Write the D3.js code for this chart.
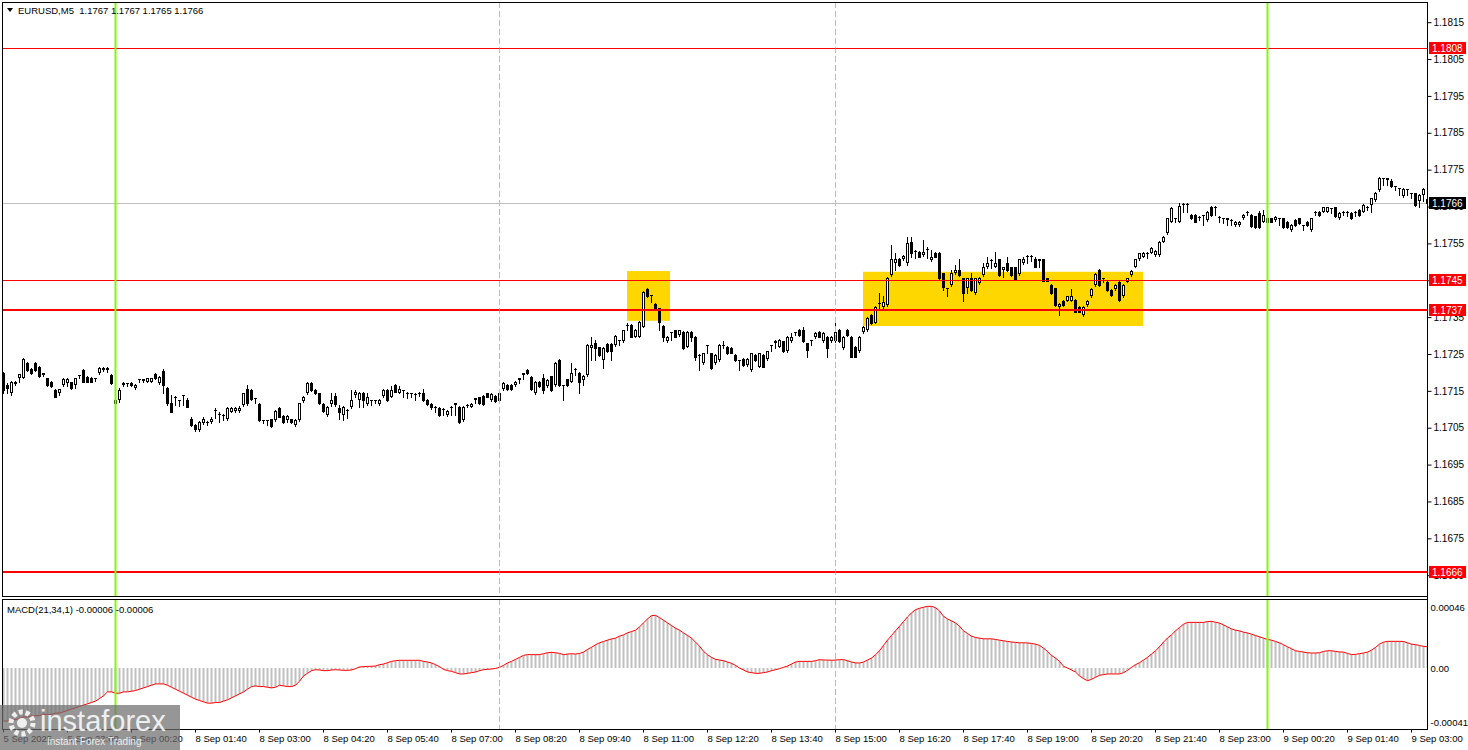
<!DOCTYPE html>
<html><head><meta charset="utf-8">
<script src="https://cdn.jsdelivr.net/npm/d3@7"></script>
<style>body{margin:0;background:#fff}svg{display:block}text{font-family:"Liberation Sans",Arial,sans-serif}</style>
</head><body><svg id="c" width="1468" height="750"></svg>
<script>
// ---- DATA (EURUSD M5, candle index 0 = 8 Sep 00:00) ----
const firstIndex = -28;
const opens = [1.17198,1.17166,1.17143,1.17168,1.17186,1.17186,1.17225,1.17209,1.17225,1.17216,1.17198,1.17184,1.17175,1.17152,1.17143,1.17166,1.17171,1.17173,1.17166,1.17193,1.17207,1.17187,1.17186,1.17184,1.17198,1.17207,1.17207,1.17193,
1.17113,1.17125,1.17166,1.17171,1.17172,1.17157,1.17181,1.17181,1.17175,1.17175,
1.17196,1.17171,1.17205,1.17157,1.17116,1.17134,1.17125,1.17138,1.17125,1.17075,
1.17057,1.17044,1.17064,1.17066,1.17066,1.17099,1.17086,1.17085,1.17073,1.17094,
1.17096,1.17096,1.17112,1.17154,1.17152,1.17130,1.17114,1.17071,1.17070,1.17073,
1.17071,1.17104,1.17082,1.17071,1.17073,1.17057,1.17071,1.17123,1.17143,1.17172,
1.17152,1.17143,1.17114,1.17085,1.17114,1.17136,1.17104,1.17085,1.17098,1.17107,
1.17139,1.17125,1.17143,1.17114,1.17125,1.17125,1.17113,1.17136,1.17152,1.17134,
1.17166,1.17145,1.17152,1.17145,1.17143,1.17141,1.17145,1.17145,1.17125,1.17114,
1.17107,1.17103,1.17101,1.17085,1.17107,1.17116,1.17107,1.17071,1.17112,1.17107,
1.17130,1.17132,1.17136,1.17143,1.17125,1.17136,1.17123,1.17154,1.17166,1.17166,
1.17166,1.17184,1.17198,1.17207,1.17187,1.17143,1.17175,1.17184,1.17162,1.17189,
1.17166,1.17234,1.17166,1.17181,1.17175,1.17210,1.17198,1.17180,1.17193,1.17266,
1.17279,1.17268,1.17234,1.17277,1.17277,1.17275,1.17288,1.17284,1.17329,1.17329,
1.17297,1.17297,1.17324,1.17426,1.17410,1.17385,1.17374,1.17326,1.17284,1.17310,
1.17314,1.17302,1.17311,1.17270,1.17311,1.17297,1.17248,1.17225,1.17274,1.17252,
1.17225,1.17234,1.17275,1.17270,1.17266,1.17248,1.17234,1.17236,1.17220,1.17207,
1.17248,1.17216,1.17248,1.17236,1.17274,1.17280,1.17270,1.17284,1.17257,1.17284,
1.17310,1.17315,1.17315,1.17279,1.17288,1.17295,1.17311,1.17284,1.17297,1.17284,
1.17284,1.17315,1.17266,1.17315,1.17297,1.17270,1.17257,1.17310,1.17315,1.17356,
1.17335,1.17388,1.17378,1.17383,1.17464,1.17496,1.17507,1.17507,1.17496,1.17555,
1.17530,1.17528,1.17519,1.17535,1.17505,1.17525,1.17525,1.17469,1.17428,1.17437,
1.17469,1.17478,1.17455,1.17428,1.17455,1.17415,1.17442,1.17464,1.17485,1.17505,
1.17487,1.17507,1.17478,1.17496,1.17485,1.17485,1.17466,1.17496,1.17516,1.17516,
1.17507,1.17507,1.17507,1.17455,1.17437,1.17428,1.17377,1.17395,1.17395,1.17395,
1.17397,1.17377,1.17356,1.17383,1.17406,1.17437,1.17478,1.17455,1.17446,1.17424,
1.17425,1.17446,1.17406,1.17446,1.17464,1.17487,1.17507,1.17514,1.17525,1.17525,
1.17519,1.17519,1.17555,1.17577,1.17609,1.17618,1.17609,1.17658,1.17658,1.17627,
1.17627,1.17622,1.17627,1.17614,1.17650,1.17650,1.17622,1.17618,1.17618,1.17614,
1.17600,1.17600,1.17618,1.17636,1.17627,1.17623,1.17632,1.17609,1.17618,1.17618,
1.17614,1.17618,1.17618,1.17609,1.17586,1.17614,1.17618,1.17600,1.17609,1.17586,
1.17636,1.17636,1.17636,1.17636,1.17645,1.17648,1.17618,1.17636,1.17636,1.17632,
1.17636,1.17641,1.17636,1.17650,1.17654,1.17668,1.17695,1.17727,1.17727,1.17720,
1.17706,1.17699,1.17679,1.17697,1.17686,1.17686,1.17666,1.17681,1.17670];
const highs = [1.17202,1.17172,1.17178,1.17177,1.17197,1.17238,1.17228,1.17212,1.17227,1.17218,1.17199,1.17186,1.17177,1.17154,1.17156,1.17184,1.17184,1.17175,1.17186,1.17194,1.17209,1.17189,1.17188,1.17185,1.17215,1.17215,1.17216,1.17196,
1.17128,1.17157,1.17174,1.17172,1.17174,1.17168,1.17182,1.17182,1.17186,1.17186,
1.17198,1.17189,1.17209,1.17160,1.17139,1.17135,1.17126,1.17140,1.17130,1.17078,
1.17060,1.17068,1.17079,1.17067,1.17078,1.17103,1.17094,1.17087,1.17105,1.17106,
1.17106,1.17108,1.17145,1.17166,1.17154,1.17131,1.17116,1.17072,1.17072,1.17075,
1.17099,1.17106,1.17084,1.17084,1.17075,1.17073,1.17118,1.17136,1.17175,1.17175,
1.17154,1.17145,1.17116,1.17109,1.17143,1.17145,1.17112,1.17109,1.17100,1.17152,
1.17153,1.17148,1.17148,1.17143,1.17126,1.17126,1.17127,1.17154,1.17154,1.17162,
1.17168,1.17163,1.17153,1.17146,1.17145,1.17143,1.17146,1.17154,1.17127,1.17116,
1.17108,1.17105,1.17103,1.17098,1.17108,1.17117,1.17109,1.17109,1.17113,1.17116,
1.17131,1.17134,1.17138,1.17145,1.17143,1.17138,1.17145,1.17173,1.17168,1.17168,
1.17177,1.17185,1.17199,1.17209,1.17189,1.17177,1.17177,1.17195,1.17182,1.17191,
1.17227,1.17236,1.17167,1.17183,1.17225,1.17212,1.17200,1.17193,1.17277,1.17297,
1.17288,1.17270,1.17268,1.17281,1.17281,1.17301,1.17289,1.17316,1.17333,1.17331,
1.17317,1.17340,1.17421,1.17430,1.17411,1.17387,1.17376,1.17328,1.17299,1.17311,
1.17316,1.17316,1.17313,1.17313,1.17313,1.17299,1.17249,1.17254,1.17275,1.17254,
1.17250,1.17277,1.17284,1.17272,1.17268,1.17250,1.17235,1.17238,1.17238,1.17254,
1.17250,1.17254,1.17250,1.17259,1.17275,1.17288,1.17290,1.17286,1.17299,1.17306,
1.17311,1.17317,1.17324,1.17281,1.17289,1.17310,1.17313,1.17310,1.17299,1.17299,
1.17338,1.17317,1.17299,1.17317,1.17299,1.17272,1.17299,1.17326,1.17349,1.17358,
1.17380,1.17415,1.17406,1.17458,1.17546,1.17523,1.17510,1.17518,1.17567,1.17568,
1.17531,1.17530,1.17560,1.17540,1.17532,1.17527,1.17527,1.17471,1.17430,1.17478,
1.17492,1.17507,1.17457,1.17457,1.17469,1.17457,1.17458,1.17496,1.17514,1.17507,
1.17528,1.17509,1.17487,1.17514,1.17487,1.17487,1.17509,1.17514,1.17518,1.17518,
1.17514,1.17508,1.17509,1.17457,1.17439,1.17430,1.17388,1.17397,1.17408,1.17426,
1.17399,1.17379,1.17379,1.17397,1.17428,1.17469,1.17480,1.17456,1.17448,1.17426,
1.17439,1.17448,1.17439,1.17457,1.17478,1.17509,1.17525,1.17527,1.17526,1.17539,
1.17532,1.17557,1.17570,1.17620,1.17650,1.17619,1.17660,1.17660,1.17660,1.17630,
1.17629,1.17623,1.17628,1.17638,1.17652,1.17651,1.17623,1.17619,1.17619,1.17615,
1.17611,1.17611,1.17629,1.17637,1.17629,1.17625,1.17638,1.17641,1.17620,1.17620,
1.17624,1.17619,1.17620,1.17611,1.17602,1.17616,1.17620,1.17601,1.17611,1.17620,
1.17637,1.17638,1.17650,1.17650,1.17646,1.17650,1.17634,1.17637,1.17637,1.17634,
1.17637,1.17643,1.17656,1.17651,1.17674,1.17690,1.17729,1.17728,1.17728,1.17724,
1.17707,1.17700,1.17699,1.17698,1.17687,1.17688,1.17683,1.17699,1.17670];
const lows = [1.17143,1.17143,1.17140,1.17166,1.17175,1.17184,1.17205,1.17196,1.17205,1.17187,1.17189,1.17164,1.17160,1.17132,1.17139,1.17164,1.17164,1.17154,1.17157,1.17186,1.17173,1.17173,1.17173,1.17177,1.17195,1.17205,1.17202,1.17169,
1.17107,1.17121,1.17164,1.17164,1.17164,1.17155,1.17173,1.17174,1.17173,1.17173,
1.17182,1.17169,1.17143,1.17112,1.17092,1.17112,1.17109,1.17112,1.17105,1.17054,
1.17042,1.17040,1.17060,1.17058,1.17064,1.17076,1.17066,1.17071,1.17071,1.17092,
1.17094,1.17094,1.17109,1.17112,1.17124,1.17116,1.17068,1.17062,1.17057,1.17053,
1.17069,1.17078,1.17064,1.17066,1.17064,1.17055,1.17069,1.17121,1.17141,1.17150,
1.17141,1.17114,1.17094,1.17083,1.17110,1.17110,1.17073,1.17071,1.17076,1.17103,
1.17134,1.17107,1.17107,1.17112,1.17112,1.17116,1.17111,1.17134,1.17123,1.17132,
1.17146,1.17143,1.17134,1.17130,1.17134,1.17125,1.17136,1.17123,1.17112,1.17100,
1.17094,1.17083,1.17085,1.17083,1.17085,1.17085,1.17064,1.17069,1.17107,1.17105,
1.17116,1.17114,1.17112,1.17132,1.17123,1.17121,1.17121,1.17152,1.17152,1.17152,
1.17164,1.17172,1.17181,1.17196,1.17152,1.17141,1.17160,1.17143,1.17160,1.17150,
1.17164,1.17164,1.17125,1.17164,1.17173,1.17193,1.17143,1.17166,1.17191,1.17234,
1.17234,1.17245,1.17211,1.17255,1.17234,1.17273,1.17275,1.17282,1.17315,1.17295,
1.17295,1.17295,1.17322,1.17404,1.17392,1.17368,1.17315,1.17284,1.17282,1.17288,
1.17295,1.17300,1.17264,1.17268,1.17284,1.17234,1.17207,1.17223,1.17252,1.17209,
1.17223,1.17232,1.17266,1.17250,1.17252,1.17232,1.17207,1.17218,1.17218,1.17205,
1.17232,1.17214,1.17214,1.17234,1.17257,1.17266,1.17268,1.17255,1.17255,1.17282,
1.17302,1.17300,1.17282,1.17243,1.17274,1.17293,1.17295,1.17282,1.17243,1.17282,
1.17282,1.17282,1.17264,1.17300,1.17241,1.17241,1.17255,1.17308,1.17313,1.17332,
1.17333,1.17374,1.17370,1.17380,1.17462,1.17478,1.17490,1.17505,1.17492,1.17514,
1.17510,1.17512,1.17517,1.17510,1.17503,1.17512,1.17453,1.17424,1.17407,1.17435,
1.17467,1.17462,1.17395,1.17415,1.17422,1.17413,1.17440,1.17462,1.17483,1.17483,
1.17485,1.17462,1.17460,1.17476,1.17462,1.17451,1.17464,1.17494,1.17496,1.17501,
1.17485,1.17487,1.17447,1.17447,1.17413,1.17381,1.17356,1.17381,1.17393,1.17393,
1.17363,1.17363,1.17354,1.17381,1.17404,1.17435,1.17435,1.17446,1.17422,1.17408,
1.17423,1.17395,1.17404,1.17444,1.17462,1.17485,1.17505,1.17512,1.17510,1.17523,
1.17517,1.17517,1.17553,1.17575,1.17607,1.17609,1.17607,1.17636,1.17636,1.17616,
1.17607,1.17614,1.17600,1.17612,1.17625,1.17627,1.17609,1.17604,1.17600,1.17600,
1.17598,1.17598,1.17616,1.17627,1.17595,1.17593,1.17593,1.17607,1.17607,1.17607,
1.17612,1.17600,1.17593,1.17593,1.17584,1.17598,1.17603,1.17586,1.17598,1.17584,
1.17627,1.17625,1.17634,1.17634,1.17632,1.17621,1.17616,1.17627,1.17623,1.17616,
1.17623,1.17625,1.17634,1.17641,1.17636,1.17666,1.17693,1.17708,1.17708,1.17704,
1.17695,1.17681,1.17677,1.17681,1.17672,1.17652,1.17650,1.17665,1.17650];
const closes = [1.17152,1.17157,1.17175,1.17175,1.17195,1.17236,1.17207,1.17198,1.17207,1.17189,1.17197,1.17166,1.17162,1.17134,1.17154,1.17182,1.17182,1.17157,1.17184,1.17193,1.17175,1.17175,1.17175,1.17184,1.17213,1.17213,1.17213,1.17171,
1.17125,1.17152,1.17172,1.17171,1.17166,1.17166,1.17181,1.17180,1.17184,1.17184,
1.17184,1.17187,1.17166,1.17116,1.17094,1.17133,1.17124,1.17139,1.17107,1.17057,
1.17046,1.17066,1.17073,1.17066,1.17075,1.17098,1.17087,1.17084,1.17103,1.17104,
1.17104,1.17104,1.17143,1.17116,1.17127,1.17130,1.17071,1.17070,1.17070,1.17055,
1.17096,1.17080,1.17066,1.17082,1.17066,1.17071,1.17116,1.17134,1.17172,1.17152,
1.17143,1.17116,1.17096,1.17107,1.17125,1.17114,1.17094,1.17107,1.17098,1.17125,
1.17148,1.17143,1.17125,1.17134,1.17125,1.17124,1.17125,1.17152,1.17125,1.17152,
1.17148,1.17154,1.17152,1.17144,1.17143,1.17141,1.17144,1.17125,1.17114,1.17107,
1.17106,1.17085,1.17100,1.17096,1.17106,1.17115,1.17066,1.17107,1.17111,1.17114,
1.17129,1.17116,1.17114,1.17134,1.17141,1.17123,1.17143,1.17171,1.17154,1.17154,
1.17175,1.17183,1.17197,1.17198,1.17154,1.17175,1.17162,1.17152,1.17180,1.17152,
1.17225,1.17166,1.17165,1.17166,1.17198,1.17210,1.17173,1.17191,1.17275,1.17275,
1.17266,1.17248,1.17266,1.17257,1.17257,1.17299,1.17288,1.17314,1.17329,1.17297,
1.17315,1.17338,1.17419,1.17406,1.17410,1.17370,1.17338,1.17297,1.17297,1.17310,
1.17297,1.17315,1.17266,1.17311,1.17297,1.17243,1.17248,1.17252,1.17274,1.17211,
1.17248,1.17275,1.17275,1.17252,1.17254,1.17234,1.17234,1.17220,1.17236,1.17252,
1.17234,1.17252,1.17216,1.17257,1.17274,1.17284,1.17288,1.17257,1.17297,1.17297,
1.17310,1.17302,1.17284,1.17261,1.17288,1.17308,1.17297,1.17308,1.17266,1.17297,
1.17311,1.17284,1.17297,1.17302,1.17243,1.17243,1.17297,1.17324,1.17347,1.17334,
1.17378,1.17389,1.17392,1.17455,1.17507,1.17507,1.17492,1.17516,1.17550,1.17523,
1.17530,1.17514,1.17528,1.17536,1.17514,1.17514,1.17455,1.17433,1.17429,1.17469,
1.17478,1.17464,1.17415,1.17455,1.17424,1.17455,1.17455,1.17485,1.17496,1.17505,
1.17496,1.17464,1.17485,1.17478,1.17464,1.17453,1.17507,1.17507,1.17516,1.17515,
1.17487,1.17506,1.17449,1.17449,1.17415,1.17383,1.17386,1.17383,1.17406,1.17407,
1.17365,1.17365,1.17377,1.17395,1.17426,1.17467,1.17437,1.17455,1.17424,1.17410,
1.17437,1.17397,1.17437,1.17455,1.17476,1.17507,1.17523,1.17525,1.17525,1.17537,
1.17530,1.17555,1.17567,1.17618,1.17645,1.17618,1.17652,1.17658,1.17657,1.17618,
1.17609,1.17622,1.17626,1.17636,1.17627,1.17649,1.17622,1.17618,1.17617,1.17613,
1.17609,1.17609,1.17627,1.17636,1.17597,1.17595,1.17595,1.17627,1.17609,1.17609,
1.17622,1.17618,1.17595,1.17595,1.17600,1.17600,1.17605,1.17600,1.17600,1.17618,
1.17636,1.17627,1.17648,1.17648,1.17645,1.17623,1.17632,1.17636,1.17635,1.17618,
1.17636,1.17627,1.17654,1.17650,1.17672,1.17688,1.17727,1.17727,1.17726,1.17706,
1.17706,1.17699,1.17697,1.17697,1.17686,1.17654,1.17681,1.17697,1.17660];
// MACD(21,34,1) main values per candle
const macdValues = [-40e-5,-40e-5,-39e-5,-39e-5,-38e-5,-37e-5,-37e-5,-36e-5,-36e-5,-36e-5,-35e-5,-35e-5,-35e-5,-34e-5,-34e-5,-33e-5,-32e-5,-31e-5,-30e-5,-29e-5,-28e-5,-27e-5,-26e-5,-25e-5,-23e-5,-21e-5,-18e-5,-18e-5,
-19e-5,-19e-5,-18e-5,-18e-5,-17.5e-5,-17e-5,-16e-5,-15e-5,-14e-5,-13e-5,-12e-5,-12e-5,-12e-5,-13e-5,-14.5e-5,-16e-5,-17.5e-5,-19e-5,-20.5e-5,-22e-5,-23.5e-5,
-24.5e-5,-25.5e-5,-26.5e-5,-26.5e-5,-26e-5,-26e-5,-25e-5,-24e-5,-22.5e-5,-21e-5,-19.5e-5,-18e-5,-16e-5,-14e-5,-13.5e-5,-14e-5,-14e-5,-14.5e-5,-15e-5,-14.5e-5,
-13e-5,-13.5e-5,-14e-5,-14e-5,-13e-5,-10e-5,-6e-5,-4e-5,-2e-5,-1.3e-5,-1.5e-5,-2e-5,-2e-5,-1.5e-5,-1.3e-5,-1.5e-5,-1.8e-5,-1.8e-5,-1.5e-5,-0.5e-5,
0.8e-5,1e-5,1.2e-5,1.3e-5,1.5e-5,2.5e-5,3e-5,4e-5,5e-5,5.5e-5,5.8e-5,5.8e-5,5.8e-5,5.8e-5,5.8e-5,5.8e-5,5e-5,4.5e-5,3.8e-5,2.5e-5,
1e-5,-1e-5,-2e-5,-2.5e-5,-3.5e-5,-4.5e-5,-4.5e-5,-4e-5,-3.5e-5,-3e-5,-2e-5,-1.3e-5,-1e-5,-0.8e-5,-0.3e-5,0.5e-5,2e-5,3.8e-5,5e-5,6.5e-5,
8e-5,9.5e-5,10.1e-5,10.1e-5,10e-5,10.1e-5,10.8e-5,11.5e-5,11.8e-5,11.5e-5,11e-5,10.1e-5,10.5e-5,10.8e-5,10.5e-5,11e-5,12e-5,14e-5,15.6e-5,17.5e-5,
19e-5,20e-5,21e-5,21.9e-5,22.5e-5,24e-5,25e-5,26.5e-5,27.5e-5,28.5e-5,31e-5,34e-5,37e-5,39.5e-5,39.7e-5,38e-5,36e-5,34e-5,32e-5,30e-5,
28.5e-5,26.5e-5,24.5e-5,22.5e-5,19.5e-5,16.5e-5,12.6e-5,10e-5,8e-5,6.5e-5,6e-5,5.5e-5,4.5e-5,3.5e-5,2e-5,0,-1.5e-5,-3e-5,-3.5e-5,-4e-5,
-4e-5,-3.5e-5,-3e-5,-2e-5,-1.3e-5,-0.5e-5,0.5e-5,1.5e-5,3e-5,4.5e-5,5e-5,5e-5,5e-5,5e-5,5.5e-5,6.3e-5,6e-5,6e-5,5.8e-5,6e-5,
6.3e-5,6.3e-5,5.5e-5,4.5e-5,3.8e-5,3.8e-5,4.5e-5,6e-5,7.5e-5,10e-5,13e-5,17e-5,21e-5,24.5e-5,28e-5,31.4e-5,35e-5,38.5e-5,41.5e-5,44e-5,
45e-5,45.8e-5,46.5e-5,46.5e-5,45.5e-5,43e-5,39e-5,37e-5,35.5e-5,34e-5,31.5e-5,28e-5,26e-5,24e-5,23e-5,22.5e-5,22e-5,22e-5,22e-5,21.5e-5,
21e-5,20.5e-5,20e-5,19.6e-5,19.3e-5,19e-5,19e-5,18.9e-5,18.5e-5,18e-5,17e-5,15e-5,12.5e-5,9.5e-5,7.5e-5,5e-5,1.3e-5,0,-1.5e-5,-3e-5,
-6e-5,-8e-5,-9.6e-5,-8.5e-5,-7e-5,-5.5e-5,-5e-5,-4.5e-5,-4.5e-5,-4.5e-5,-4.5e-5,-3.5e-5,-1.8e-5,0.5e-5,2.5e-5,4e-5,6e-5,8e-5,10.5e-5,13e-5,
16e-5,19.5e-5,22.6e-5,25e-5,28e-5,30.5e-5,33e-5,34.4e-5,34.4e-5,34.4e-5,34.4e-5,34.4e-5,35e-5,35.2e-5,34.5e-5,33.9e-5,32.5e-5,31e-5,29.5e-5,28.5e-5,
28e-5,27e-5,26.4e-5,25.5e-5,24.5e-5,23.5e-5,22.5e-5,21.5e-5,21e-5,20e-5,19e-5,17.5e-5,16e-5,14.5e-5,13e-5,12.5e-5,12e-5,11.5e-5,11.3e-5,11.3e-5,
11.5e-5,12.5e-5,13e-5,13e-5,12.5e-5,12.1e-5,12e-5,11e-5,10.1e-5,10.3e-5,10.8e-5,11.3e-5,12e-5,13.5e-5,15.5e-5,18e-5,19.5e-5,20.1e-5,20.1e-5,20.1e-5,
20.1e-5,20e-5,19e-5,18e-5,17.6e-5,17e-5,16.3e-5,16e-5];
const priceTicks = [1.1665,1.1675,1.1685,1.1695,1.1705,1.1715,1.1725,1.1735,1.1745,1.1755,1.1765,1.1775,1.1785,1.1795,1.1805,1.1815];
const levelPrices = [1.1808,1.1745,1.1737,1.1666];
const levelWidths = [1,1,2,2];
const currentPrice = 1.1766;
const macdTicks = [0.00046,0,-0.00041];
const macdTickLabels = ["0.00046","0.00","-0.00041"];
const timeTickIdx = [-28,-12,4,20,36,52,68,84,100,116,132,148,164,180,196,212,228,244,260,276,292,308,324];
const timeLabels = ["5 Sep 2025","5 Sep 23:00","8 Sep 00:20","8 Sep 01:40","8 Sep 03:00","8 Sep 04:20","8 Sep 05:40","8 Sep 07:00","8 Sep 08:20","8 Sep 09:40","8 Sep 11:00","8 Sep 12:20","8 Sep 13:40","8 Sep 15:00","8 Sep 16:20","8 Sep 17:40","8 Sep 19:00","8 Sep 20:20","8 Sep 21:40","8 Sep 23:00","9 Sep 00:20","9 Sep 01:40","9 Sep 03:00"];
const dayLineIdx = [0,288];
const sessionLineIdx = [96,180];
const boxStartIdx = [128,187];
const boxEndIdx = [138.75,257];
const boxTop = [1.17475,1.17473];
const boxBottom = [1.17340,1.17326];
const headerText = "EURUSD,M5  1.1767 1.1767 1.1765 1.1766";
const macdTitle = "MACD(21,34,1) -0.00006 -0.00006";

// ---- LAYOUT ----
const svg = d3.select('#c');
const L = 2, R = 1427, mainT = 2, mainB = 596, macdT = 599, macdB = 729;
const lastIndex = firstIndex + opens.length - 1;
const x = d3.scaleLinear().domain([firstIndex, lastIndex]).range([3, 1427]);
const y = d3.scaleLinear().domain([1.1808, 1.1666]).range([48, 571.5]);
const ym = d3.scaleLinear().domain([0, 0.00046]).range([668, 607]);
const defs = svg.append('defs');
defs.append('clipPath').attr('id','cm').append('rect').attr('x',L+1).attr('y',mainT+1).attr('width',R-L-1).attr('height',mainB-mainT-1);
defs.append('clipPath').attr('id','cd').append('rect').attr('x',L+1).attr('y',macdT+1).attr('width',R-L-1).attr('height',macdB-macdT-1);

const main = svg.append('g').attr('clip-path','url(#cm)');
main.selectAll('rect.box').data(boxStartIdx).enter().append('rect')
  .attr('x',(d,k)=>x(d)).attr('width',(d,k)=>x(boxEndIdx[k])-x(d))
  .attr('y',(d,k)=>y(boxTop[k])).attr('height',(d,k)=>y(boxBottom[k])-y(boxTop[k]))
  .attr('fill','#FFD700');
main.append('line').attr('x1',L).attr('x2',R).attr('y1',Math.round(y(currentPrice))+0.5).attr('y2',Math.round(y(currentPrice))+0.5).attr('stroke','#c0c0c0');
const cg = main.append('g');
opens.forEach((o,k)=>{
  const i = firstIndex + k;
  const cx = Math.round(x(i));
  const h = highs[k], l = lows[k], c = closes[k];
  const yo = Math.round(y(o)), yc = Math.round(y(c)), yh = Math.round(y(h)), yl = Math.round(y(l));
  cg.append('line').attr('x1',cx+0.5).attr('x2',cx+0.5).attr('y1',yh).attr('y2',yl+1).attr('stroke','#000');
  if (c > o && yo - yc >= 2) {
    cg.append('rect').attr('x',cx-0.5).attr('y',yc+0.5).attr('width',2).attr('height',yo-yc-1).attr('fill','#fff').attr('stroke','#000');
  } else if (c < o && yc - yo >= 1) {
    cg.append('rect').attr('x',cx-1).attr('y',yo).attr('width',3).attr('height',yc-yo+1).attr('fill','#000');
  } else {
    cg.append('rect').attr('x',cx-1).attr('y',yc).attr('width',3).attr('height',1).attr('fill','#000');
  }
});
main.selectAll('line.lvl').data(levelPrices).enter().append('line')
  .attr('x1',L).attr('x2',R)
  .attr('y1',(d,k)=>Math.round(y(d))+(levelWidths[k]===1?0.5:0)).attr('y2',(d,k)=>Math.round(y(d))+(levelWidths[k]===1?0.5:0))
  .attr('stroke','#ff0000').attr('stroke-width',(d,k)=>levelWidths[k]);

// MACD panel
const mg = svg.append('g').attr('clip-path','url(#cd)');
mg.selectAll('rect.h').data(macdValues).enter().append('rect')
  .attr('x',(d,k)=>Math.round(x(firstIndex+k))-0.5).attr('width',2)
  .attr('y',d=>Math.min(ym(d),ym(0))).attr('height',d=>Math.abs(ym(d)-ym(0)))
  .attr('fill','#c0c0c0');
mg.append('path').datum(macdValues)
  .attr('d',d3.line().x((d,k)=>Math.round(x(firstIndex+k))+0.5).y(d=>ym(d)))
  .attr('fill','none').attr('stroke','#ff0000').attr('stroke-width',1);

// vertical lines spanning both panels
const vg = svg.append('g');
[[mainT,mainB],[macdT,macdB]].forEach(([t,b])=>{
  vg.selectAll(null).data(dayLineIdx).enter().append('line')
    .attr('x1',d=>Math.round(x(d))+0.5).attr('x2',d=>Math.round(x(d))+0.5).attr('y1',t).attr('y2',b)
    .attr('stroke','#7cfc00').attr('stroke-width',2);
  vg.selectAll(null).data(sessionLineIdx).enter().append('line')
    .attr('x1',d=>Math.round(x(d))+0.5).attr('x2',d=>Math.round(x(d))+0.5).attr('y1',t).attr('y2',b)
    .attr('stroke','#7cfc00').attr('stroke-width',1).attr('stroke-dasharray','6,3');
});

// frames
svg.append('rect').attr('x',L+0.5).attr('y',mainT+0.5).attr('width',R-L).attr('height',mainB-mainT).attr('fill','none').attr('stroke','#000');
svg.append('rect').attr('x',L+0.5).attr('y',macdT+0.5).attr('width',R-L).attr('height',macdB-macdT).attr('fill','none').attr('stroke','#000');

// price axis
const ya = svg.append('g').attr('transform',`translate(${R+0.5},0)`)
  .call(d3.axisRight(y).tickValues(priceTicks).tickSize(4).tickSizeOuter(0).tickFormat(d=>d.toFixed(4)));
ya.select('.domain').remove();
ya.selectAll('text').attr('x',6).attr('font-size','10px').attr('fill','#000').attr('font-family','"Liberation Sans",Arial,sans-serif');
const lab = svg.append('g');
levelPrices.forEach(p=>{
  const yy = Math.round(y(p));
  lab.append('rect').attr('x',R+2).attr('y',yy-6).attr('width',37).attr('height',12).attr('fill','#ff0000');
  lab.append('text').attr('x',R+5).attr('y',yy+4).attr('font-size','10px').attr('fill','#fff').text(p.toFixed(4));
});
{
  const yy = Math.round(y(currentPrice));
  lab.append('rect').attr('x',R+2).attr('y',yy-6).attr('width',37).attr('height',12).attr('fill','#000');
  lab.append('text').attr('x',R+5).attr('y',yy+4).attr('font-size','10px').attr('fill','#fff').text(currentPrice.toFixed(4));
}
// macd axis
const ma = svg.append('g').attr('transform',`translate(${R+0.5},0)`)
  .call(d3.axisRight(ym).tickValues(macdTicks).tickSize(0).tickFormat((d,k)=>macdTickLabels[k]));
ma.select('.domain').remove();
ma.selectAll('text').attr('x',3).attr('font-size','9.5px').attr('fill','#000').attr('font-family','"Liberation Sans",Arial,sans-serif');
// time axis
const ta = svg.append('g').attr('transform',`translate(0,${macdB+0.5})`)
  .call(d3.axisBottom(x).tickValues(timeTickIdx).tickSize(3).tickSizeOuter(0).tickFormat((d,k)=>timeLabels[k]));
ta.select('.domain').remove();
ta.selectAll('text').attr('text-anchor','start').attr('x',0).attr('y',6).attr('font-size','9.5px').attr('fill','#000').attr('font-family','"Liberation Sans",Arial,sans-serif');
svg.append('line').attr('x1',R+0.5).attr('x2',R+0.5).attr('y1',mainT).attr('y2',macdB+1).attr('stroke','#000');

// titles
svg.append('path').attr('d','M7,8 L13,8 L10,12 Z').attr('fill','#000');
svg.append('text').attr('x',18).attr('y',14).attr('font-size','9.5px').attr('fill','#000').style('white-space','pre').text(headerText);
svg.append('text').attr('x',7).attr('y',613).attr('font-size','9.5px').attr('fill','#000').text(macdTitle);

// watermark
const wm = svg.append('g');
wm.append('rect').attr('x',0).attr('y',705).attr('width',180).attr('height',45).attr('fill','#6e6e6e').attr('opacity',0.72);
wm.append('circle').attr('cx',22).attr('cy',723).attr('r',11).attr('fill','none').attr('stroke','#fff').attr('stroke-width',5).attr('stroke-dasharray','4,2.9').attr('opacity',0.85);
wm.append('circle').attr('cx',22).attr('cy',723).attr('r',5).attr('fill','#fff').attr('opacity',0.85);
wm.append('text').attr('x',40).attr('y',731).attr('font-size','29px').attr('fill','#fff').attr('opacity',0.85).text('instaforex');
wm.append('text').attr('x',47).attr('y',745).attr('font-size','10px').attr('fill','#fff').attr('opacity',0.85).text('Instant Forex Trading');
</script></body></html>
